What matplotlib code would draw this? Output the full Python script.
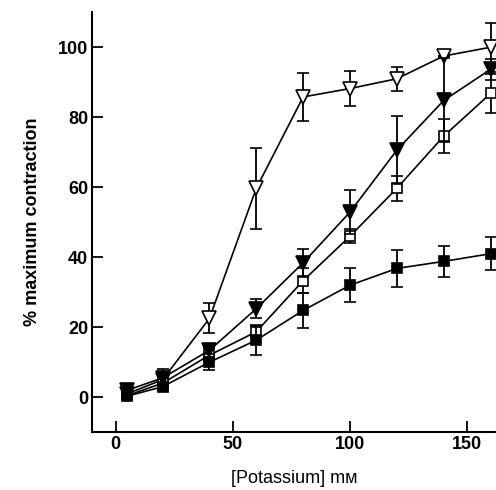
import numpy as np
import matplotlib
matplotlib.use('Agg')
import matplotlib.pyplot as plt

plt.rcParams['font.family'] = ['Liberation Sans', 'DejaVu Sans']

# potassium concentration (mM)
potassium = [5, 20, 40, 60, 80, 100, 120, 140, 160]

# % maximum contraction, four conditions
open_tri = [1, 5, 22.5, 59.7, 85.8, 88.2, 91, 97.5, 100]
open_tri_err = [1, 1.5, 4.3, 11.6, 6.8, 5, 3.4, 0, 7]

filled_tri = [2, 5.5, 13.4, 25.3, 38.4, 52.9, 70.6, 84.8, 93.7]
filled_tri_err = [1, 2.5, 1.8, 2.7, 4, 6.4, 9.7, 12, 3]

open_sq = [0.5, 4, 12, 18.7, 33.3, 46, 59.7, 74.6, 86.8]
open_sq_err = [0.5, 1, 2, 1.5, 3.5, 2, 3.5, 4.8, 5.5]

filled_sq = [0.3, 3, 10, 16.3, 24.8, 32, 36.8, 38.8, 41]
filled_sq_err = [0.5, 1, 2.3, 4.2, 5, 4.8, 5.3, 4.5, 4.7]

fig = plt.figure(figsize=(4.96, 4.90), dpi=100)
ax = fig.add_axes([0.186, 0.118, 0.814, 0.857])

common = dict(color='black', ecolor='black', elinewidth=1.3, capsize=4,
              capthick=1.3, linewidth=1.2, markeredgecolor='black',
              markeredgewidth=1.2, clip_on=False)

ax.errorbar(potassium, open_tri, yerr=open_tri_err, fmt='-v', markersize=9.5,
            markerfacecolor='white', zorder=3, **common)
ax.errorbar(potassium, open_sq, yerr=open_sq_err, fmt='-s', markersize=7.5,
            markerfacecolor='white', zorder=4, **common)
ax.errorbar(potassium, filled_tri, yerr=filled_tri_err, fmt='-v', markersize=9.5,
            markerfacecolor='black', zorder=5, **common)
ax.errorbar(potassium, filled_sq, yerr=filled_sq_err, fmt='-s', markersize=7.5,
            markerfacecolor='black', zorder=6, **common)

ax.set_xlim(-10, 162.3)
ax.set_ylim(-10, 110)
ax.set_xticks([0, 50, 100, 150])
ax.set_yticks([0, 20, 40, 60, 80, 100])

for s in ['top', 'right']:
    ax.spines[s].set_visible(False)
for s in ['left', 'bottom']:
    ax.spines[s].set_linewidth(1.5)

ax.tick_params(direction='in', length=8, width=1.3, labelsize=13, pad=3)
for lab in ax.get_xticklabels() + ax.get_yticklabels():
    lab.set_fontweight('bold')

ax.set_xlabel('[Potassium] m\u1d0d', fontsize=13, labelpad=12)
ax.set_ylabel('% maximum contraction', fontsize=13, fontweight='bold', labelpad=12)

fig.savefig('out.png', dpi=100)
